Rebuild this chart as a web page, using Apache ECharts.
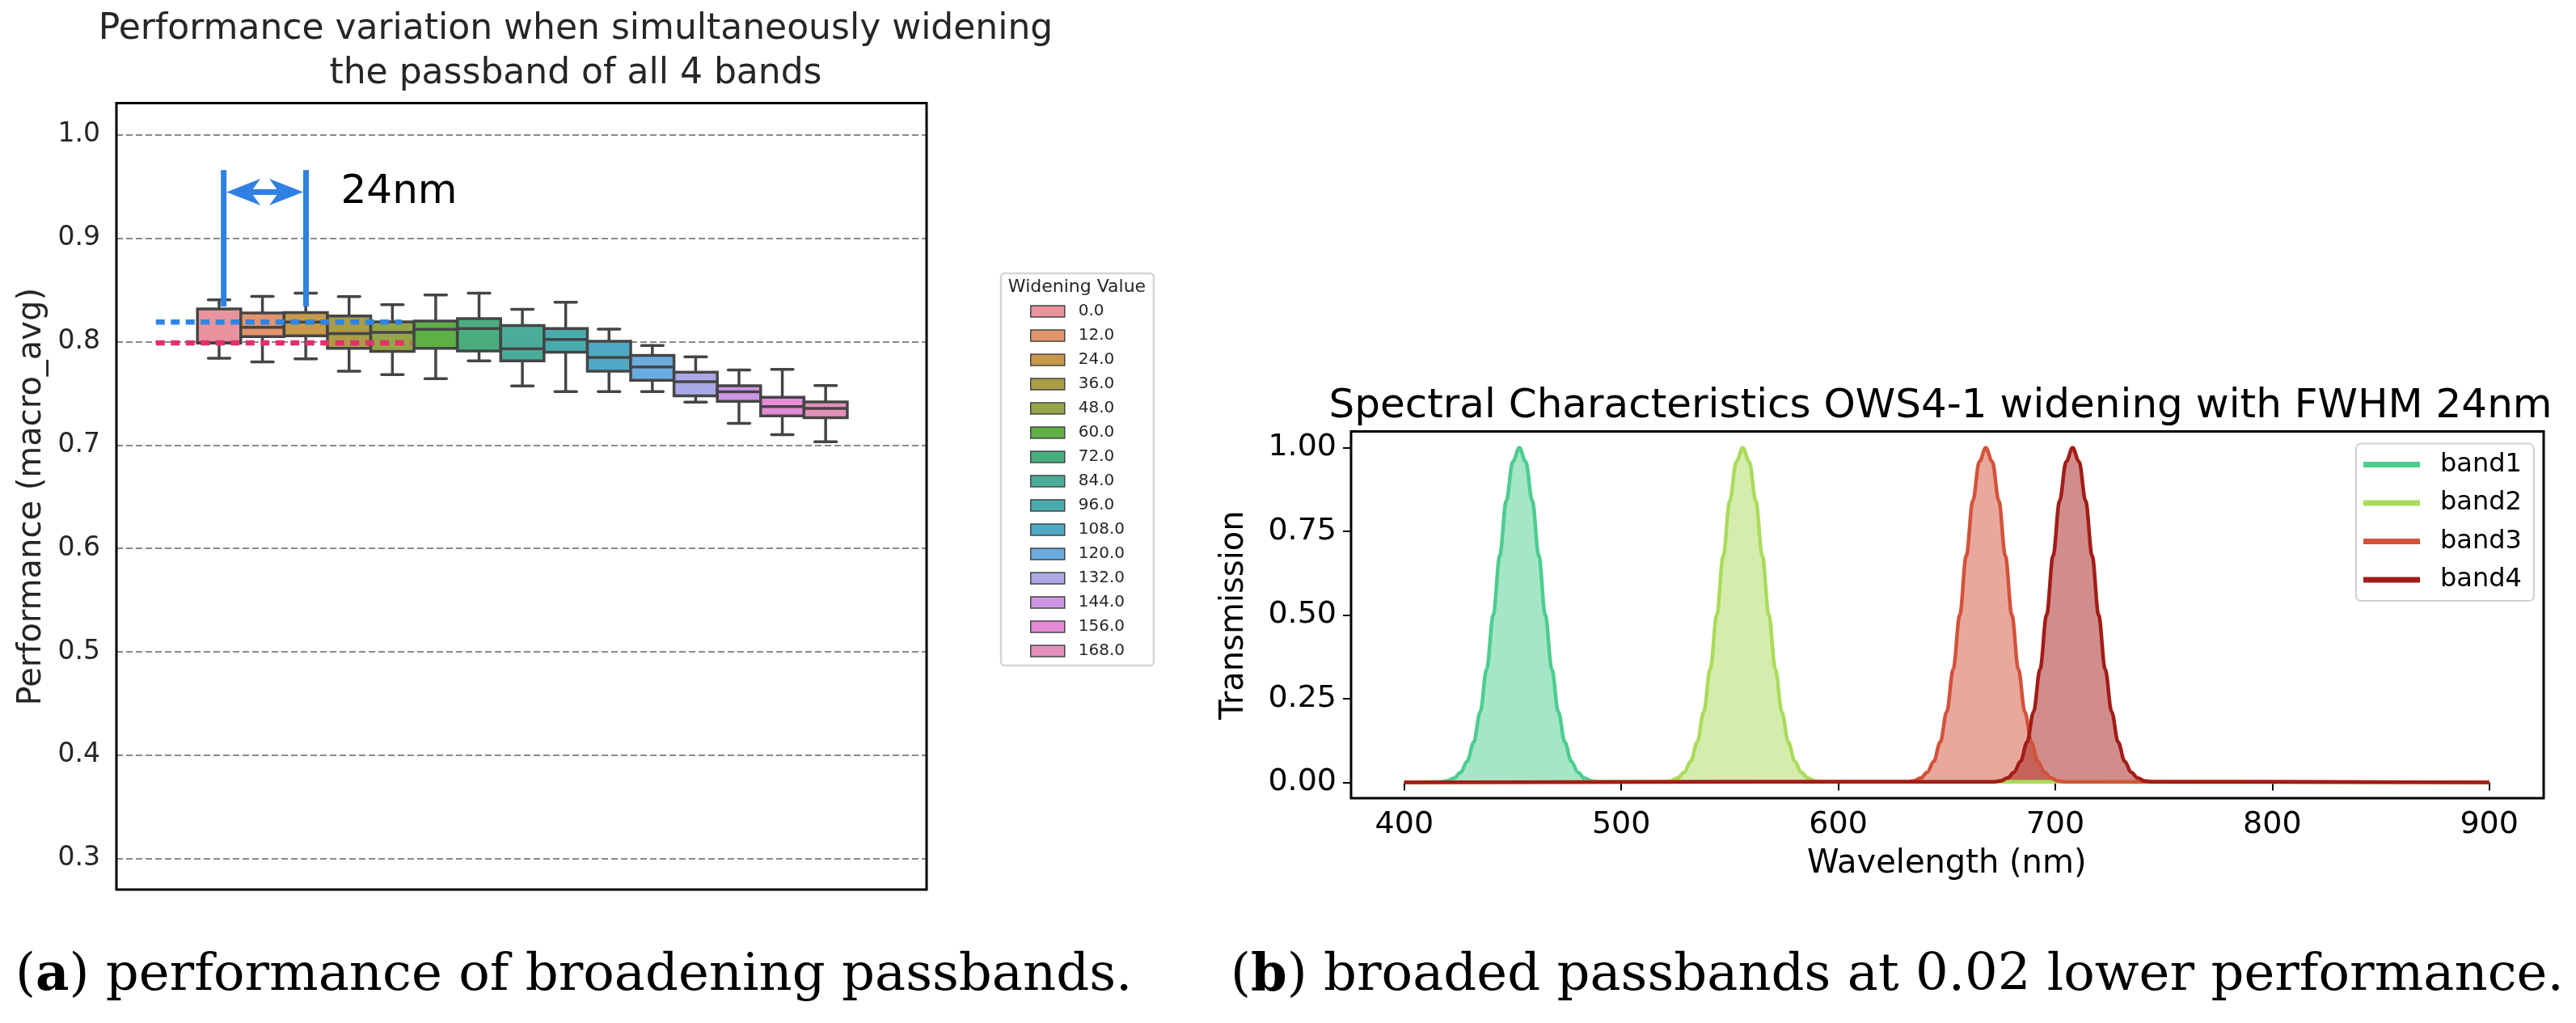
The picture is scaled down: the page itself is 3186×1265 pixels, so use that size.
<!DOCTYPE html>
<html>
<head>
<meta charset="utf-8">
<script src="https://cdn.jsdelivr.net/npm/echarts@6/dist/echarts.min.js"></script>
<style>
html,body{margin:0;padding:0;background:#ffffff;}
#chart{width:3186px;height:1265px;}
</style>
</head>
<body>
<div id="chart"></div>
<script>
// ---------- Left panel: box plot data ----------
const wideningValues = ['0.0','12.0','24.0','36.0','48.0','60.0','72.0','84.0','96.0','108.0','120.0','132.0','144.0','156.0','168.0'];
const whiskerLow  = [0.784, 0.7805, 0.7834, 0.7715, 0.768, 0.7642, 0.7813, 0.7571, 0.7517, 0.7517, 0.7517, 0.7415, 0.721, 0.710, 0.7031];
const quartile1   = [0.7985, 0.8048, 0.8056, 0.7936, 0.7905, 0.7936, 0.791, 0.7813, 0.7897, 0.7715, 0.7626, 0.7475, 0.7422, 0.7282, 0.7265];
const medianVal   = [0.799, 0.8139, 0.819, 0.8077, 0.809, 0.8118, 0.8126, 0.7931, 0.8022, 0.7848, 0.7756, 0.7613, 0.7514, 0.7372, 0.7355];
const quartile3   = [0.8316, 0.8278, 0.8282, 0.8248, 0.8191, 0.820, 0.8222, 0.8157, 0.8126, 0.8004, 0.7866, 0.7704, 0.7573, 0.7461, 0.7416];
const whiskerHigh = [0.8405, 0.8437, 0.847, 0.8436, 0.8358, 0.8452, 0.847, 0.8313, 0.8381, 0.8121, 0.7962, 0.7853, 0.7726, 0.7732, 0.7575];
const perfTicks   = [0.3, 0.4, 0.5, 0.6, 0.7, 0.8, 0.9, 1.0];

// annotation values (data space of the left panel)
const refLineStart = [-1.46, -1.46];
const refLineEnd   = [4.22, 4.43];
const refLineValue = [0.819, 0.7988];
const markerX      = [0.106, 2.006];
const markerYRange = [0.834, 0.966];
const markerArrowY = 0.9446;
const markerLabelX = 2.81;
const markerLabel  = '24nm';

// ---------- Right panel: transmission curves ----------
const bandNames = ['band1','band2','band3','band4'];
const band1Wavelength = [400,417,420,423,426,429,432,435,438,441,444,447,450,453,456,459,462,465,468,471,474,477,480,483,486,489,900];
const band1Transmission = [0,0.002,0.005,0.013,0.030,0.063,0.120,0.211,0.339,0.500,0.677,0.841,0.958,1.000,0.958,0.841,0.677,0.500,0.339,0.211,0.120,0.063,0.030,0.013,0.005,0.002,0];
const band2Wavelength = [400,520,523,526,529,532,535,538,541,544,547,550,553,556,559,562,565,568,571,574,577,580,583,586,589,592,900];
const band2Transmission = [0,0.002,0.005,0.013,0.030,0.063,0.120,0.211,0.339,0.500,0.677,0.841,0.958,1.000,0.958,0.841,0.677,0.500,0.339,0.211,0.120,0.063,0.030,0.013,0.005,0.002,0];
const band3Wavelength = [400,632,635,638,641,644,647,650,653,656,659,662,665,668,671,674,677,680,683,686,689,692,695,698,701,704,900];
const band3Transmission = [0,0.002,0.005,0.013,0.030,0.063,0.120,0.211,0.339,0.500,0.677,0.841,0.958,1.000,0.958,0.841,0.677,0.500,0.339,0.211,0.120,0.063,0.030,0.013,0.005,0.002,0];
const band4Wavelength = [400,672,675,678,681,684,687,690,693,696,699,702,705,708,711,714,717,720,723,726,729,732,735,738,741,744,900];
const band4Transmission = [0,0.002,0.005,0.013,0.030,0.063,0.120,0.211,0.339,0.500,0.677,0.841,0.958,1.000,0.958,0.841,0.677,0.500,0.339,0.211,0.120,0.063,0.030,0.013,0.005,0.002,0];
const wavelengthTicks = [400, 500, 600, 700, 800, 900];
const transmissionTicks = [0, 0.25, 0.5, 0.75, 1.0];

// ---------- styles ----------
const boxPalette = ['#e8939e','#e2946e','#c6994b','#aa9d46','#94a547','#5eaf46','#4aad7e','#4aad9a','#4aabaf','#4eaac4','#6aacdf','#aba8e8','#cc97e2','#e58bd8','#e591bc'];
const bandColors = ['#4ccd8f','#aadb5a','#d4523a','#a31c17'];
const refColors = ['#2f85e4','#e2306a'];
const EDGE = '#454545';
const FONT = '"DejaVu Sans"';

const chart = echarts.init(document.getElementById('chart'), null, {renderer: 'canvas'});

function renderBox(params, api) {
  const x = api.value(0);
  const lo = api.coord([x, api.value(1)]);
  const b1 = api.coord([x, api.value(2)]);
  const md = api.coord([x, api.value(3)]);
  const b3 = api.coord([x, api.value(4)]);
  const hi = api.coord([x, api.value(5)]);
  const unit = api.size([1, 0])[0];
  const half = unit * 0.5;
  const cap = unit * 0.25;
  const cx = lo[0];
  const st = {stroke: EDGE, lineWidth: 3.5, lineCap: 'round'};
  return {
    type: 'group',
    children: [
      {type: 'line', shape: {x1: cx, y1: hi[1], x2: cx, y2: b3[1]}, style: st},
      {type: 'line', shape: {x1: cx, y1: b1[1], x2: cx, y2: lo[1]}, style: st},
      {type: 'line', shape: {x1: cx - cap, y1: hi[1], x2: cx + cap, y2: hi[1]}, style: st},
      {type: 'line', shape: {x1: cx - cap, y1: lo[1], x2: cx + cap, y2: lo[1]}, style: st},
      {type: 'rect', shape: {x: cx - half, y: b3[1], width: 2 * half, height: b1[1] - b3[1]},
        style: {fill: api.visual('color'), stroke: EDGE, lineWidth: 3.5}},
      {type: 'line', shape: {x1: cx - half, y1: md[1], x2: cx + half, y2: md[1]}, style: {stroke: EDGE, lineWidth: 3.5}}
    ]
  };
}

const boxSeries = wideningValues.map((name, i) => ({
  name: name,
  type: 'custom',
  xAxisIndex: 0,
  yAxisIndex: 0,
  z: 2,
  itemStyle: {color: boxPalette[i]},
  encode: {x: 0, y: [1, 2, 3, 4, 5]},
  renderItem: renderBox,
  data: [[i, whiskerLow[i], quartile1[i], medianVal[i], quartile3[i], whiskerHigh[i]]]
}));

const refSeries = {
  type: 'custom',
  name: 'refLines',
  xAxisIndex: 0,
  yAxisIndex: 0,
  z: 5,
  silent: true,
  encode: {x: [0, 1], y: 2},
  data: refLineValue.map((v, i) => [refLineStart[i], refLineEnd[i], v]),
  renderItem: (params, api) => {
    const p0 = api.coord([api.value(0), api.value(2)]);
    const p1 = api.coord([api.value(1), api.value(2)]);
    return {type: 'line', shape: {x1: p0[0], y1: p0[1], x2: p1[0], y2: p1[1]},
      style: {stroke: refColors[params.dataIndex], lineWidth: 6.5, lineDash: [11, 7.5], lineCap: 'butt'}};
  }
};

const markerSeries = {
  type: 'custom',
  name: 'widthMarker',
  xAxisIndex: 0,
  yAxisIndex: 0,
  z: 6,
  silent: true,
  encode: {x: [0, 1], y: [2, 3]},
  data: [[markerX[0], markerX[1], markerYRange[0], markerYRange[1], markerArrowY, markerLabelX]],
  renderItem: (params, api) => {
    const blue = '#2f80e2';
    const l0 = api.coord([api.value(0), api.value(2)]);
    const l1 = api.coord([api.value(0), api.value(3)]);
    const r0 = api.coord([api.value(1), api.value(2)]);
    const r1 = api.coord([api.value(1), api.value(3)]);
    const ay = api.coord([api.value(0), api.value(4)])[1];
    const txt = api.coord([api.value(5), api.value(4)]);
    const lt = l0[0] + 3.5, rt = r0[0] - 3.5;
    const hl = 42, hh = 16.5, notch = 30;
    return {
      type: 'group',
      children: [
        {type: 'line', shape: {x1: l0[0], y1: l0[1], x2: l1[0], y2: l1[1]}, style: {stroke: blue, lineWidth: 7}},
        {type: 'line', shape: {x1: r0[0], y1: r0[1], x2: r1[0], y2: r1[1]}, style: {stroke: blue, lineWidth: 7}},
        {type: 'line', shape: {x1: lt + notch, y1: ay, x2: rt - notch, y2: ay}, style: {stroke: blue, lineWidth: 7}},
        {type: 'polygon', shape: {points: [[lt, ay], [lt + hl, ay - hh], [lt + notch, ay], [lt + hl, ay + hh]]}, style: {fill: blue}},
        {type: 'polygon', shape: {points: [[rt, ay], [rt - hl, ay - hh], [rt - notch, ay], [rt - hl, ay + hh]]}, style: {fill: blue}},
        {type: 'text', x: txt[0], y: txt[1], style: {text: markerLabel, font: '50px ' + FONT, fill: '#000', align: 'left', verticalAlign: 'middle'}}
      ]
    };
  }
};

const bandWave = [band1Wavelength, band2Wavelength, band3Wavelength, band4Wavelength];
const bandVals = [band1Transmission, band2Transmission, band3Transmission, band4Transmission];
const bandSeries = bandNames.map((name, i) => ({
  name: name,
  type: 'line',
  xAxisIndex: 3,
  yAxisIndex: 3,
  color: bandColors[i],
  showSymbol: false,
  symbol: 'none',
  smooth: 0.35,
  smoothMonotone: 'x',
  lineStyle: {width: 4.5, color: bandColors[i]},
  areaStyle: {color: bandColors[i], opacity: 0.5, origin: 'start'},
  itemStyle: {color: bandColors[i]},
  data: bandWave[i].map((w, k) => [w, bandVals[i][k]])
}));

const option = {
  backgroundColor: '#ffffff',
  animation: false,
  textStyle: {fontFamily: FONT},
  grid: [
    {left: 144, top: 166.8, width: 1002, height: 894.8, show: false},
    {left: 144, top: 127.5, width: 1002, height: 972.5, show: true, borderColor: '#000', borderWidth: 3, backgroundColor: 'transparent', z: 3},
    {left: 1671, top: 533.6, width: 1475, height: 453.4, show: true, borderColor: '#000', borderWidth: 3, backgroundColor: 'transparent', z: 3},
    {left: 1736.8, top: 553.6, width: 1341.9, height: 413.9, show: false}
  ],
  xAxis: [
    {gridIndex: 0, type: 'value', min: -2.37, max: 16.33, show: false},
    {gridIndex: 1, type: 'value', min: 0, max: 1, show: false},
    {gridIndex: 2, type: 'value', min: 0, max: 1, show: false},
    {gridIndex: 3, type: 'value', min: wavelengthTicks[0], max: wavelengthTicks[wavelengthTicks.length - 1], interval: 100,
      offset: 19.5,
      axisLine: {show: false},
      axisTick: {show: true, inside: false, length: 10, lineStyle: {color: '#000', width: 2}},
      axisLabel: {fontSize: 38, color: '#000', margin: 14, fontFamily: FONT},
      splitLine: {show: false},
      name: 'Wavelength (nm)', nameLocation: 'middle', nameGap: 62,
      nameTextStyle: {fontSize: 40, color: '#000', fontFamily: FONT}}
  ],
  yAxis: [
    {gridIndex: 0, type: 'value', min: perfTicks[0], max: perfTicks[perfTicks.length - 1], interval: 0.1,
      axisLine: {show: false}, axisTick: {show: false},
      axisLabel: {fontSize: 33, color: '#262626', margin: 20, fontFamily: FONT, formatter: v => v.toFixed(1)},
      splitLine: {show: true, lineStyle: {color: '#8a8a8a', width: 2, type: [8, 4]}},
      name: 'Performance (macro_avg)', nameLocation: 'middle', nameGap: 84,
      nameTextStyle: {fontSize: 40, color: '#262626', fontFamily: FONT}},
    {gridIndex: 1, type: 'value', min: 0, max: 1, show: false},
    {gridIndex: 2, type: 'value', min: 0, max: 1, show: false},
    {gridIndex: 3, type: 'value', min: transmissionTicks[0], max: transmissionTicks[transmissionTicks.length - 1], interval: 0.25,
      offset: 65.8,
      axisLine: {show: false},
      axisTick: {show: true, inside: false, length: 10, lineStyle: {color: '#000', width: 2}},
      axisLabel: {fontSize: 38, color: '#000', margin: 18, fontFamily: FONT, formatter: v => v.toFixed(2)},
      splitLine: {show: false},
      name: 'Transmission', nameLocation: 'middle', nameGap: 124,
      nameTextStyle: {fontSize: 40, color: '#000', fontFamily: FONT}}
  ],
  legend: [
    {
      orient: 'vertical', left: 1274, top: 375, padding: 0,
      itemWidth: 42, itemHeight: 14, itemGap: 10,
      selectedMode: false,
      textStyle: {fontSize: 20, color: '#262626', fontFamily: FONT, lineHeight: 20, padding: [0, 0, 0, 12]},
      data: wideningValues.map((n, i) => ({name: n, icon: 'rect',
        itemStyle: {color: boxPalette[i], borderColor: EDGE, borderWidth: 1.5}}))
    },
    {
      orient: 'vertical', left: 2914, top: 548.6,
      padding: [10, 15, 10, 9],
      borderColor: '#d0d0d0', borderWidth: 2, borderRadius: 6, backgroundColor: '#ffffff',
      itemWidth: 70, itemHeight: 7, itemGap: 15.5,
      selectedMode: false,
      itemStyle: {borderWidth: 0},
      textStyle: {fontSize: 32, color: '#000', fontFamily: FONT, lineHeight: 32, padding: [0, 0, 0, 20]},
      data: bandNames.map(n => ({name: n, icon: 'rect'}))
    }
  ],
  graphic: [
    {type: 'rect', z: -1, shape: {x: 1238, y: 338, width: 189, height: 485, r: 5},
      style: {fill: '#ffffff', stroke: '#d4d4d4', lineWidth: 2.5}},
    {type: 'text', x: 1332, y: 355,
      style: {text: 'Widening Value', font: '22px ' + FONT, fill: '#262626', textAlign: 'center', textVerticalAlign: 'middle'}},
    {type: 'text', x: 712, y: 64.5,
      style: {text: 'Performance variation when simultaneously widening\nthe passband of all 4 bands',
        font: '44px ' + FONT, fill: '#262626', textAlign: 'center', textVerticalAlign: 'middle', lineHeight: 55}},
    {type: 'text', x: 2400, y: 503,
      style: {text: 'Spectral Characteristics OWS4-1 widening with FWHM 24nm',
        font: '50px ' + FONT, fill: '#000', textAlign: 'center', textVerticalAlign: 'middle'}},
    {type: 'text', x: 19, y: 1207,
      style: {text: '{p|(}{b|a}{p|) performance of broadening passbands.}', textAlign: 'left', textVerticalAlign: 'middle',
        rich: {p: {fontFamily: '"DejaVu Serif"', fontSize: 64, fill: '#000', color: '#000'},
               b: {fontFamily: '"DejaVu Serif"', fontSize: 64, fontWeight: 'bold', fill: '#000', color: '#000'}}}},
    {type: 'text', x: 1522, y: 1207,
      style: {text: '{p|(}{b|b}{p|) broaded passbands at 0.02 lower performance.}', textAlign: 'left', textVerticalAlign: 'middle',
        rich: {p: {fontFamily: '"DejaVu Serif"', fontSize: 64, fill: '#000', color: '#000'},
               b: {fontFamily: '"DejaVu Serif"', fontSize: 64, fontWeight: 'bold', fill: '#000', color: '#000'}}}}
  ],
  series: [...boxSeries, refSeries, markerSeries, ...bandSeries]
};

chart.setOption(option);
</script>
</body>
</html>
